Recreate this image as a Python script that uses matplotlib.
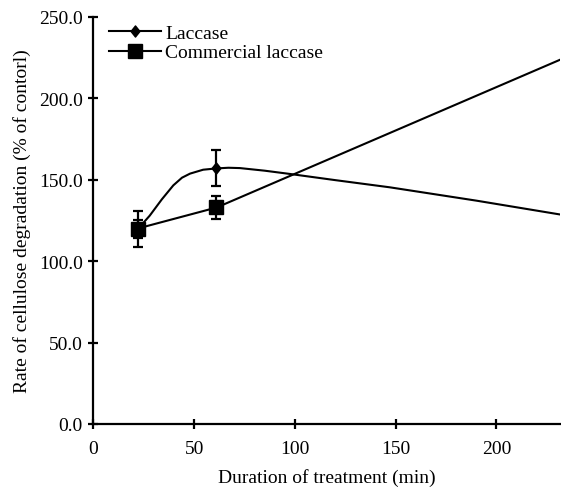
import matplotlib
matplotlib.use("Agg")
import matplotlib.pyplot as plt
from matplotlib.path import Path

plt.rcParams['font.family'] = ['Liberation Serif', 'DejaVu Serif']

# Marker data
lac_x = [22, 61]
lac_y = [120, 157]
lac_err = [11, 11]
com_x = [22, 61]
com_y = [120, 133]
com_err = [5.5, 7]

# Line traces
lac_line_x = [21.8, 25, 28, 34, 39.7, 44, 48, 54.5, 61.2, 67, 72.7, 85, 97.5, 120, 147, 190, 232]
lac_line_y = [120, 123.8, 128, 138, 146.6, 151.3, 153.8, 156.2, 157, 157.4, 157.2, 155.6, 153.6, 149.8, 145.4, 137.2, 128.6]
com_line_x = [21.8, 61.2, 232]
com_line_y = [120, 133, 224]

xticks = [0, 50, 100, 150, 200]
yticks = [0, 50, 100, 150, 200, 250]

fig = plt.figure(figsize=(5.61, 4.89), dpi=100)
ax = fig.add_axes([93.3/561, 1-425/489, (560-93.3)/561, (425-18)/489])

diamond = Path([(0, 1), (0.8, 0), (0, -1), (-0.8, 0), (0, 1)],
               [Path.MOVETO, Path.LINETO, Path.LINETO, Path.LINETO, Path.CLOSEPOLY])

ax.plot(lac_line_x, lac_line_y, color='black', lw=1.5, zorder=2)
ax.plot(com_line_x, com_line_y, color='black', lw=1.5, zorder=2)

ax.errorbar(lac_x, lac_y, yerr=lac_err, fmt='none', ecolor='black',
            elinewidth=1.6, capsize=3.5, capthick=1.6, zorder=3)
ax.errorbar(com_x, com_y, yerr=com_err, fmt='none', ecolor='black',
            elinewidth=1.6, capsize=3.5, capthick=1.6, zorder=3)
ax.plot(lac_x, lac_y, linestyle='none', marker=diamond, markersize=8,
        color='black', zorder=4)
ax.plot(com_x, com_y, linestyle='none', marker='s', markersize=10,
        color='black', zorder=4)

# Legend proxies
h1, = ax.plot([], [], color='black', lw=1.5, marker=diamond, markersize=8)
h2, = ax.plot([], [], color='black', lw=1.5, marker='s', markersize=10)
ax.legend([h1, h2], ['Laccase', 'Commercial laccase'], loc='upper left',
          bbox_to_anchor=(0.034, 0.982), frameon=False, fontsize=14,
          handlelength=2.67, handletextpad=0.2, labelspacing=0.1,
          borderpad=0, borderaxespad=0)

ax.set_xlim(0, 231.5)
ax.set_ylim(0, 250)
ax.set_xticks(xticks)
ax.set_xticklabels([str(v) for v in xticks])
ax.set_yticks(yticks)
ax.set_yticklabels([f"{v:.1f}" for v in yticks])

for s in ['top', 'right']:
    ax.spines[s].set_visible(False)
for s in ['left', 'bottom']:
    ax.spines[s].set_linewidth(1.6)

ax.tick_params(direction='inout', length=7, width=1.6, labelsize=14)
ax.tick_params(axis='x', pad=8)
ax.tick_params(axis='y', pad=4)
ax.set_xlabel('Duration of treatment (min)', fontsize=14, labelpad=8)
ax.set_ylabel('Rate of cellulose degradation (% of contorl)', fontsize=14, labelpad=6)

fig.savefig('out.png', dpi=100)
